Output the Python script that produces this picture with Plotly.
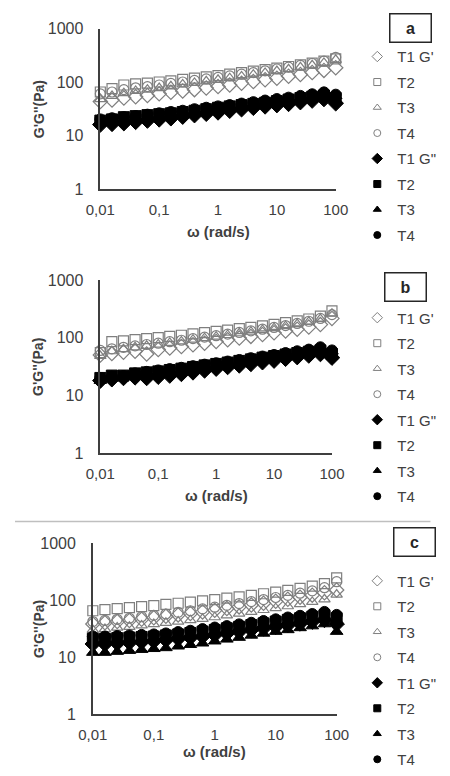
import plotly.graph_objects as go

# angular frequency (rad/s)
OMEGA = [0.01, 0.0158, 0.0251, 0.0398, 0.0631, 0.1, 0.158, 0.251, 0.398, 0.631,
         1, 1.58, 2.51, 3.98, 6.31, 10, 15.8, 25.1, 39.8, 63.1, 100]

X_TICKVALS = [0.01, 0.1, 1, 10, 100]
X_TICKTEXT = ["0,01", "0,1", "1", "10", "100"]
Y_TICKVALS = [1, 10, 100, 1000]
Y_TICKTEXT = ["1", "10", "100", "1000"]

SERIES_NAMES = ["T1 G'", "T2", "T3", "T4", 'T1 G"', "T2", "T3", "T4"]
PANEL_LABELS = ["a", "b", "c"]

# Panel a
A_T1_GP = [43, 46, 50, 53, 56, 60, 64, 68, 72, 77, 82, 88, 95, 102, 110, 118, 128, 138, 150, 165, 185]
A_T2_GP = [65, 75, 88, 92, 95, 100, 105, 112, 118, 125, 132, 140, 150, 160, 170, 182, 195, 210, 225, 245, 270]
A_T3_GP = [48, 55, 62, 68, 72, 77, 83, 90, 96, 103, 110, 118, 127, 137, 148, 160, 173, 188, 205, 228, 260]
A_T4_GP = [60, 65, 72, 78, 82, 88, 94, 100, 107, 114, 122, 130, 140, 150, 162, 175, 190, 205, 222, 245, 290]
A_T1_GPP = [16, 16.5, 17, 18, 19, 20, 21, 22.5, 24, 25.5, 27, 29, 31, 33, 35, 37, 39, 42, 45, 48, 40]
A_T2_GPP = [19, 20, 22, 23, 24, 25, 26, 27.5, 29, 31, 33, 35, 37, 39, 41, 44, 47, 50, 53, 56, 50]
A_T3_GPP = [18, 19, 20, 21.5, 23, 24, 25.5, 27, 29, 31, 33, 35, 37.5, 40, 42.5, 45, 48, 52, 56, 62, 55]
A_T4_GPP = [20, 21, 22, 23, 24.5, 26, 27.5, 29, 31, 33, 35, 37, 39.5, 42, 45, 48, 51, 55, 59, 64, 58]

# Panel b
B_T1_GP = [50, 53, 56, 58, 52, 62, 66, 70, 75, 80, 86, 92, 98, 105, 113, 121, 130, 140, 152, 168, 215]
B_T2_GP = [55, 85, 88, 92, 96, 100, 105, 110, 116, 122, 128, 135, 143, 151, 160, 170, 182, 195, 210, 235, 290]
B_T3_GP = [48, 58, 63, 68, 72, 76, 81, 86, 92, 98, 104, 111, 119, 127, 136, 146, 158, 172, 188, 210, 260]
B_T4_GP = [60, 64, 68, 72, 76, 80, 85, 90, 96, 102, 108, 115, 123, 131, 140, 150, 162, 176, 192, 215, 250]
B_T1_GPP = [18, 19, 20, 20.5, 20, 21, 22, 23.5, 25, 27, 29, 31, 33, 35, 37.5, 40, 43, 46, 49, 52, 45]
B_T2_GPP = [20, 22, 22, 24, 25, 26, 27.5, 29, 31, 33, 35, 37, 39.5, 42, 45, 48, 51, 54, 57, 60, 52]
B_T3_GPP = [18, 20, 21, 23, 24, 25.5, 27, 28.5, 30, 32, 34, 36.5, 39, 42, 45, 48, 52, 56, 60, 66, 58]
B_T4_GPP = [20, 21, 21.5, 24, 25.5, 27, 28.5, 30, 32, 34, 36, 38.5, 41, 44, 47, 50, 54, 58, 62, 68, 60]

# Panel c
C_T1_GP = [38, 40, 42, 44, 46, 49, 52, 55, 58, 62, 66, 71, 76, 82, 88, 95, 103, 112, 122, 134, 150]
C_T2_GP = [65, 68, 71, 74, 77, 80, 84, 88, 92, 97, 102, 108, 114, 121, 129, 138, 148, 160, 175, 195, 245]
C_T3_GP = [30, 31, 33, 34, 36, 38, 40, 42, 44.5, 47, 50, 54, 58, 62, 67, 72, 78, 85, 93, 103, 125]
C_T4_GP = [42, 44, 46, 48, 51, 54, 57, 61, 65, 70, 75, 81, 87, 94, 102, 111, 121, 132, 145, 165, 210]
C_T1_GPP = [17, 17, 17.5, 18, 18.5, 19, 20, 21, 22, 23, 24.5, 26, 28, 30, 32, 34, 36.5, 39, 42, 45, 38]
C_T2_GPP = [21, 21, 21.5, 22, 22.5, 23, 24, 25, 26.5, 28, 30, 32, 34, 36.5, 39, 42, 45, 48, 51, 54, 48]
C_T3_GPP = [12, 12, 12.5, 13, 13.5, 14, 14.5, 15.5, 16.5, 17.5, 19, 20.5, 22, 24, 26, 28, 30, 32.5, 35, 38, 28]
C_T4_GPP = [23, 23, 23.5, 24, 24.5, 25, 26, 27.5, 29, 31, 33, 35, 37.5, 40, 43, 46, 49.5, 53, 57, 62, 55]

PANEL_DATA = [
    [A_T1_GP, A_T2_GP, A_T3_GP, A_T4_GP, A_T1_GPP, A_T2_GPP, A_T3_GPP, A_T4_GPP],
    [B_T1_GP, B_T2_GP, B_T3_GP, B_T4_GP, B_T1_GPP, B_T2_GPP, B_T3_GPP, B_T4_GPP],
    [C_T1_GP, C_T2_GP, C_T3_GP, C_T4_GP, C_T1_GPP, C_T2_GPP, C_T3_GPP, C_T4_GPP],
]

W, H = 450, 776
FONT = "Liberation Sans, Arial, sans-serif"
TXT = "#404040"
OPEN_COL = "#7f7f7f"

# plot areas in pixels: (left, right, top, bottom)
AREAS = [(91, 342, 21, 185), (91, 338, 278, 455), (83, 343, 547, 722)]
TITLE_Y = [228, 498, 760]
LABEL_BOX = [(422, 20), (416, 285), (426, 546)]
LEGEND_TOP = [33, 300, 569]

SYMBOLS = ["diamond-open", "square-open", "triangle-up-open", "circle-open",
           "diamond", "square", "triangle-up", "circle"]

fig = go.Figure()
for p in range(3):
    xa = "x" if p == 0 else f"x{p+1}"
    ya = "y" if p == 0 else f"y{p+1}"
    lg = "legend" if p == 0 else f"legend{p+1}"
    for k in range(8):
        is_open = k < 4
        col = OPEN_COL if is_open else "black"
        fig.add_trace(go.Scatter(
            x=OMEGA, y=PANEL_DATA[p][k], mode="markers", name=SERIES_NAMES[k],
            xaxis=xa, yaxis=ya, showlegend=False, cliponaxis=False,
            marker=dict(symbol=SYMBOLS[k], size=(11 if k % 4 == 0 else 10) if is_open else (12 if k % 4 == 0 else 11),
                        color=col, line=dict(width=1.2 if is_open else 1, color=col)),
        ))
        # legend entry with smaller symbol
        fig.add_trace(go.Scatter(
            x=[None], y=[None], mode="markers", name=SERIES_NAMES[k],
            xaxis=xa, yaxis=ya, legend=lg, legendgroup=f"p{p}s{k}", showlegend=True,
            marker=dict(symbol=SYMBOLS[k], size=8 if k % 4 == 0 else 7,
                        color=col, line=dict(width=1, color=col)),
        ))

layout = dict(width=W, height=H, margin=dict(l=0, r=0, t=0, b=0),
              paper_bgcolor="white", plot_bgcolor="white",
              font=dict(family=FONT, color=TXT, size=14))
annotations = []
for p, (l, r, t, b) in enumerate(AREAS):
    sx = "" if p == 0 else str(p + 1)
    layout[f"xaxis{sx}"] = dict(
        type="log", range=[-2, 2], domain=[l / W, r / W], anchor=f"y{sx}",
        showline=True, linecolor="#3f3f3f", linewidth=1.5, showgrid=False,
        zeroline=False, ticks="", tickvals=X_TICKVALS, ticktext=X_TICKTEXT,
        tickfont=dict(size=15, color=TXT, family=FONT), ticklabelstandoff=6)
    layout[f"yaxis{sx}"] = dict(
        type="log", range=[0, 3], domain=[1 - b / H, 1 - t / H], anchor=f"x{sx}",
        showline=True, linecolor="#3f3f3f", linewidth=1.5, showgrid=False,
        zeroline=False, ticks="", tickvals=Y_TICKVALS, ticktext=Y_TICKTEXT,
        tickfont=dict(size=16, color=TXT, family=FONT), ticklabelstandoff=12)
    layout["legend" if p == 0 else f"legend{p+1}"] = dict(
        x=365 / W, y=1 - LEGEND_TOP[p] / H, xanchor="left", yanchor="top",
        bgcolor="rgba(0,0,0,0)", font=dict(size=15, color=TXT, family=FONT),
        tracegroupgap=3, traceorder="grouped", itemclick=False)
    # axis titles
    annotations.append(dict(x=(l + r) / 2 / W, y=1 - TITLE_Y[p] / H, xref="paper", yref="paper",
                            xanchor="center", yanchor="middle",
                            text="<b>ω (rad/s)</b>", showarrow=False,
                            font=dict(size=15, color=TXT, family=FONT)))
    annotations.append(dict(x=25 / W, y=1 - (t + b) / 2 / H, xref="paper", yref="paper",
                            xanchor="center", yanchor="middle",
                            text="<b>G'G''(Pa)</b>", textangle=-90, showarrow=False,
                            font=dict(size=14, color=TXT, family=FONT)))
    cx, cy = LABEL_BOX[p]
    annotations.append(dict(x=cx / W, y=1 - cy / H, xref="paper", yref="paper",
                            xanchor="center", yanchor="middle",
                            text=f"<b>{PANEL_LABELS[p]}</b>", showarrow=False,
                            width=40, height=27, bordercolor="#262626", borderwidth=1.5,
                            borderpad=0, bgcolor="white",
                            font=dict(size=16, color="#262626", family=FONT)))
layout["annotations"] = annotations
layout["shapes"] = [dict(type="line", xref="paper", yref="paper", x0=0, x1=443 / W,
                         y0=1 - 525 / H, y1=1 - 525 / H,
                         line=dict(color="#bfbfbf", width=1.5))]
fig.update_layout(**layout)
fig.write_html("out.html")
